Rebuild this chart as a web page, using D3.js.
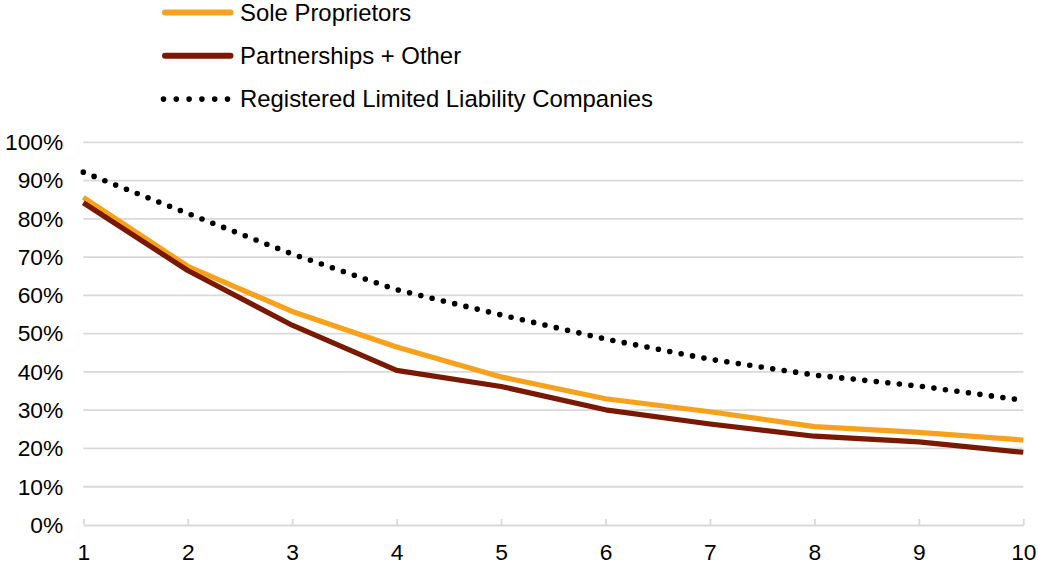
<!DOCTYPE html>
<html>
<head>
<meta charset="utf-8">
<script src="https://cdn.jsdelivr.net/npm/d3@7/dist/d3.min.js"></script>
<style>
  html, body { margin: 0; padding: 0; background: #fff; }
  svg { display: block; font-family: "Liberation Sans", Arial, sans-serif; }
</style>
</head>
<body>
<svg id="chart" width="1038" height="567"></svg>
<script>
// Years since formation
const years = [1, 2, 3, 4, 5, 6, 7, 8, 9, 10];

// Share of businesses still active (%)
const soleProprietors = [85.6, 67.6, 55.8, 46.5, 38.7, 33.0, 29.6, 25.7, 24.2, 22.2];
const partnershipsOther = [84.2, 66.5, 52.2, 40.4, 36.2, 30.1, 26.4, 23.2, 21.7, 19.0];
const registeredLLC = [92.2, 81.4, 70.8, 61.5, 54.9, 48.6, 43.3, 39.2, 36.3, 32.6];

const yTicks = [0, 10, 20, 30, 40, 50, 60, 70, 80, 90, 100];
const seriesNames = ["Sole Proprietors", "Partnerships + Other", "Registered Limited Liability Companies"];

const series = [
  { name: seriesNames[0], values: soleProprietors, color: "#f7a11d", dash: null },
  { name: seriesNames[1], values: partnershipsOther, color: "#7a1902", dash: null },
  { name: seriesNames[2], values: registeredLLC, color: "#000000", dash: "0 11.6" }
];

const svg = d3.select("#chart");

const x = d3.scaleLinear().domain([1, 10]).range([83.3, 1023.3]);
const y = d3.scaleLinear().domain([0, 100]).range([525, 142.3]);

// Horizontal gridlines
svg.append("g")
  .selectAll("line")
  .data(yTicks.filter(d => d > 0))
  .join("line")
  .attr("x1", x(1)).attr("x2", x(10))
  .attr("y1", d => y(d)).attr("y2", d => y(d))
  .attr("stroke", "#d9d9d9").attr("stroke-width", 1.8);

// Y axis labels
const yAxis = svg.append("g")
  .attr("transform", `translate(${x(1)},0)`)
  .call(d3.axisLeft(y).tickValues(yTicks).tickFormat(d => d + "%").tickSize(0).tickPadding(20));
yAxis.select(".domain").remove();
yAxis.selectAll("text")
  .attr("font-size", 22.8)
  .attr("fill", "#000")
  .attr("font-family", "'Liberation Sans', Arial, sans-serif");

// X axis with inward ticks
const xAxis = svg.append("g")
  .attr("transform", `translate(0,${y(0)})`)
  .call(d3.axisBottom(x).tickValues(years).tickFormat(d3.format("d")).tickSizeInner(-6).tickSizeOuter(0).tickPadding(19));
xAxis.select(".domain").attr("stroke", "#d9d9d9").attr("stroke-width", 1.8);
xAxis.selectAll(".tick line").attr("stroke", "#d9d9d9").attr("stroke-width", 1.8);
xAxis.selectAll("text")
  .attr("font-size", 22.8)
  .attr("fill", "#000")
  .attr("font-family", "'Liberation Sans', Arial, sans-serif");

// Series lines
const line = d3.line()
  .x((d, i) => x(years[i]))
  .y(d => y(d));

svg.append("g")
  .selectAll("path")
  .data(series)
  .join("path")
  .attr("d", s => line(s.values))
  .attr("fill", "none")
  .attr("stroke", s => s.color)
  .attr("stroke-width", s => s.dash ? 5.6 : 5.2)
  .attr("stroke-linejoin", "round")
  .attr("stroke-linecap", s => s.dash ? "round" : "butt")
  .attr("stroke-dasharray", s => s.dash);

// Legend
const legend = svg.append("g")
  .selectAll("g")
  .data(series)
  .join("g")
  .attr("transform", (s, i) => `translate(0,${12.5 + i * 43.3})`);

legend.append("line")
  .attr("x1", s => s.dash ? 163.5 : 165)
  .attr("x2", s => s.dash ? 232 : 230.5)
  .attr("y1", 0).attr("y2", 0)
  .attr("stroke", s => s.color)
  .attr("stroke-width", s => s.dash ? 5.6 : 6)
  .attr("stroke-linecap", "round")
  .attr("stroke-dasharray", s => s.dash ? "0 12.8" : null);

legend.append("text")
  .attr("x", 240)
  .attr("y", 0)
  .attr("dy", "0.35em")
  .attr("font-size", 23.9)
  .attr("fill", "#000")
  .text(s => s.name);
</script>
</body>
</html>
